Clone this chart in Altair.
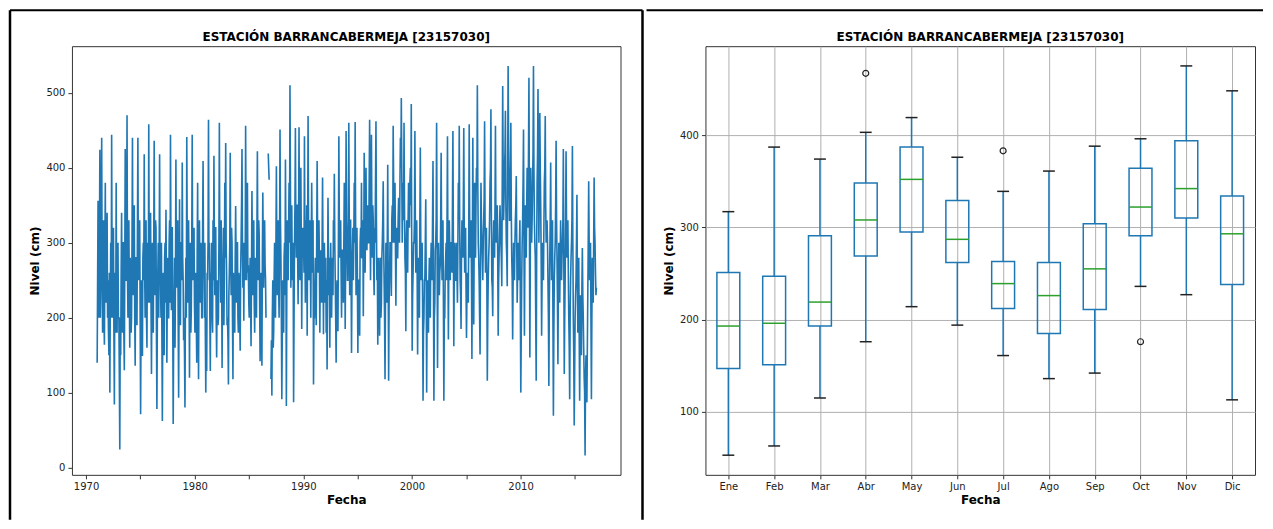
import altair as alt
import pandas as pd

# ---------------- time series (level readings, cm) ----------------
# start-of-month readings, 1971..2016, Jan..Dec
LEVELS_1970S = [  # 1971 .. 1979
    140, 356, 200, 424, 250, 440, 180, 330, 164, 380, 220, 340,
    250, 150, 100, 300, 444, 200, 320, 84, 260, 380, 180, 300,
    200, 24, 150, 340, 180, 300, 130, 425, 250, 470, 200, 330,
    160, 260, 200, 440, 230, 350, 136, 280, 190, 440, 250, 330,
    71, 250, 149, 300, 418, 200, 330, 160, 290, 458, 220, 340,
    125, 300, 180, 436, 230, 320, 78, 260, 200, 418, 250, 300,
    62, 260, 150, 300, 344, 140, 280, 200, 330, 444, 210, 320,
    58, 220, 160, 411, 240, 330, 93, 358, 190, 300, 407, 250,
    200, 80, 280, 441, 220, 330, 120, 300, 210, 444, 250, 320,
]
LEVELS_1980S = [  # 1980 .. 1989
    180, 260, 140, 380, 118, 330, 220, 290, 200, 409, 260, 300,
    100, 129, 250, 464, 300, 129, 250, 200, 330, 416, 230, 320,
    147, 250, 200, 460, 280, 330, 133, 260, 190, 380, 433, 260,
    200, 111, 260, 420, 230, 300, 118, 240, 180, 349, 220, 300,
    180, 250, 156, 300, 425, 240, 196, 300, 456, 250, 380, 270,
    200, 280, 162, 369, 230, 330, 180, 280, 200, 422, 250, 310,
    142, 260, 136, 367, 240, 330, 251, None, None, 419, 384, None,
    118, 96, 250, 180, 300, 200, 402, 230, 330, 200, 451, 280,
    91, 250, 180, 300, 411, 82, 330, 250, 380, 510, 240, 350,
    250, 87, 300, 453, 280, 350, 218, 454, 250, 400, 185, 320,
]
LEVELS_1990S = [  # 1990 .. 1999
    300, 442, 220, 280, 176, 469, 250, 330, 200, 380, 260, 111,
    200, 280, 190, 409, 260, 330, 180, 290, 220, 387, 178, 300,
    220, 180, 131, 360, 230, 160, 300, 200, 280, 330, 392, 250,
    140, 250, 182, 442, 280, 330, 200, 290, 220, 380, 185, 449,
    300, 250, 460, 230, 330, 153, 280, 250, 380, 461, 230, 320,
    153, 250, 176, 320, 380, 280, 202, 420, 260, 400, 290, 350,
    300, 464, 250, 444, 280, 330, 230, 300, 462, 250, 164, 280,
    176, 280, 220, 300, 382, 250, 118, 300, 220, 404, 116, 250,
    300, 229, 350, 456, 300, 380, 216, 320, 280, 360, 300, 440,
    493, 300, 380, 460, 280, 182, 330, 260, 380, 320, 400, 485,
]
LEVELS_2000S = [  # 2000 .. 2009
    156, 260, 300, 449, 260, 330, 151, 280, 200, 427, 250, 300,
    89, 200, 250, 358, 100, 250, 180, 280, 200, 300, 250, 409,
    89, 220, 300, 460, 133, 300, 230, 270, 420, 250, 330, 89,
    200, 280, 250, 442, 171, 330, 250, 300, 260, 449, 162, 300,
    250, 300, 220, 380, 456, 250, 185, 330, 280, 453, 260, 320,
    173, 260, 220, 458, 280, 330, 145, 440, 191, 380, 280, 400,
    510, 300, 250, 151, 380, 300, 250, 330, 462, 260, 320, 116,
    250, 300, 380, 478, 250, 202, 330, 280, 456, 300, 350, 176,
    280, 350, 300, 242, 509, 330, 400, 476, 300, 242, 536, 380,
    330, 460, 280, 171, 300, 250, 330, 389, 220, 300, 250, 330,
]
LEVELS_2010S = [  # 2010 .. 2016
    100, 250, 330, 451, 176, 350, 280, 400, 320, 520, 147, 400,
    300, 380, 536, 330, 280, 116, 380, 505, 300, 473, 350, 176,
    300, 250, 380, 469, 300, 330, 250, 109, 280, 407, 250, 330,
    69, 250, 300, 436, 280, 138, 300, 220, 330, 250, 300, 425,
    125, 250, 422, 280, 330, 200, 91, 250, 300, 429, 200, 56,
    200, 250, 364, 180, 280, 89, 230, 150, 293, 200, 120, 16,
    150, 87, 230, 382, 250, 300, 91, 280, 220, 387, 300, 230,
]
# mid-month readings, 1971..2016, Jan..Dec
MID_1970S = [
    250, 220, 300, 200, 330, 260, 290, 200, 280, 230, 300, 200,
    180, 260, 220, 200, 260, 300, 180, 250, 180, 230, 290, 200,
    120, 200, 260, 220, 300, 180, 270, 250, 300, 260, 300, 240,
    280, 180, 300, 250, 330, 200, 280, 200, 320, 260, 300, 200,
    200, 160, 280, 250, 260, 300, 200, 300, 220, 280, 320, 220,
    250, 200, 300, 260, 330, 180, 200, 300, 280, 250, 200, 180,
    200, 160, 280, 220, 250, 240, 200, 300, 220, 290, 320, 200,
    180, 280, 250, 260, 320, 200, 220, 200, 300, 250, 280, 170,
    150, 220, 200, 300, 320, 250, 250, 180, 300, 260, 300, 220,
]
MID_1980S = [
    250, 200, 290, 220, 260, 250, 300, 200, 320, 280, 200, 180,
    200, 260, 300, 280, 200, 260, 300, 180, 250, 300, 320, 200,
    230, 190, 300, 280, 220, 260, 240, 320, 250, 280, 300, 190,
    170, 230, 300, 280, 320, 200, 260, 190, 280, 270, 300, 200,
    260, 200, 260, 350, 300, 300, 280, 250, 320, 300, 260, 220,
    240, 220, 260, 280, 320, 220, 260, 220, 320, 280, 330, 220,
    220, 190, 280, 290, 310, 270, 200, None, None, 400, None, None,
    170, 200, 160, 250, 230, 300, 280, 320, 240, 300, 330, 200,
    180, 200, 280, 230, 300, 240, 280, 320, 300, 380, 300, 260,
    300, 200, 350, 320, 350, 280, 330, 300, 350, 300, 300, 280,
]
MID_1990S = [
    260, 300, 330, 350, 300, 330, 320, 280, 300, 300, 330, 200,
    250, 230, 300, 320, 300, 280, 280, 240, 300, 280, 290, 260,
    280, 250, 240, 280, 280, 250, 240, 260, 230, 300, 300, 200,
    230, 200, 300, 330, 320, 260, 290, 260, 300, 300, 280, 330,
    250, 330, 320, 330, 260, 250, 320, 300, 300, 330, 300, 250,
    250, 200, 300, 280, 280, 330, 300, 320, 330, 300, 330, 300,
    380, 330, 350, 320, 350, 260, 320, 380, 330, 280, 250, 240,
    250, 200, 280, 330, 300, 200, 220, 250, 300, 260, 220, 300,
    300, 330, 300, 380, 330, 300, 300, 280, 330, 330, 380, 400,
    400, 350, 330, 350, 260, 300, 290, 330, 330, 380, 350, 300,
]
MID_2000S = [
    230, 300, 330, 330, 300, 260, 250, 230, 330, 300, 280, 220,
    180, 250, 300, 250, 220, 230, 250, 220, 270, 280, 330, 250,
    200, 290, 330, 300, 250, 260, 260, 330, 300, 300, 220, 200,
    260, 300, 330, 280, 280, 290, 300, 280, 350, 300, 260, 250,
    280, 260, 300, 330, 320, 230, 290, 300, 350, 320, 300, 240,
    230, 250, 320, 330, 300, 260, 300, 280, 300, 340, 350, 380,
    380, 280, 200, 280, 330, 280, 300, 360, 330, 300, 250, 200,
    280, 330, 400, 330, 240, 300, 300, 350, 330, 330, 280, 250,
    320, 330, 280, 380, 400, 360, 420, 350, 280, 400, 430, 330,
    380, 340, 250, 250, 280, 300, 350, 300, 260, 280, 300, 220,
]
MID_2010S = [
    180, 300, 380, 300, 280, 320, 350, 350, 420, 350, 280, 330,
    330, 420, 400, 300, 200, 280, 420, 380, 380, 400, 280, 250,
    280, 320, 400, 350, 320, 300, 200, 220, 330, 300, 300, 200,
    180, 280, 350, 330, 220, 250, 260, 280, 280, 280, 330, 280,
    200, 330, 330, 300, 260, 160, 200, 280, 330, 300, 150, 130,
    230, 300, 250, 250, 180, 170, 200, 240, 230, 160, 100, 120,
    120, 160, 300, 300, 280, 200, 200, 240, 300, 320, 260, 240,
]
BLOCK_START_YEARS = [1971, 1980, 1990, 2000, 2010]
YEAR_TICKS = [1970, 1975, 1980, 1985, 1990, 1995, 2000, 2005, 2010, 2015]
LEVEL_TICKS = [0, 100, 200, 300, 400, 500]

# ---------------- monthly boxplot statistics ----------------
MONTHS = ["Ene", "Feb", "Mar", "Abr", "May", "Jun",
          "Jul", "Ago", "Sep", "Oct", "Nov", "Dic"]
WHISKER_LOW = [53, 63, 115, 176, 214, 194, 161, 136, 142, 236, 227, 113]
Q1 = [147, 151, 193, 269, 295, 262, 212, 185, 211, 291, 310, 238]
MEDIAN = [193, 196, 219, 308, 352, 287, 239, 226, 255, 322, 342, 293]
Q3 = [251, 247, 291, 348, 387, 329, 263, 262, 304, 364, 394, 334]
WHISKER_HIGH = [317, 387, 374, 403, 419, 376, 339, 361, 388, 396, 475, 448]
OUTLIER_MONTH = [4, 7, 10]
OUTLIER_VALUE = [467, 383, 176]
BOX_TICKS = [100, 200, 300, 400]

TITLE = "ESTACIÓN BARRANCABERMEJA [23157030]"
BLUE = "#1f77b4"
GREEN = "#2ca02c"
FONT = "DejaVu Sans"
PW, PH = 549, 429      # left plot area
PW2 = 550              # right plot area

# ---- build tables ----
rows = []
seg = 0
prev_none = False
for start, main_vals, mid_vals in zip(
        BLOCK_START_YEARS,
        [LEVELS_1970S, LEVELS_1980S, LEVELS_1990S, LEVELS_2000S, LEVELS_2010S],
        [MID_1970S, MID_1980S, MID_1990S, MID_2000S, MID_2010S]):
    for i in range(len(main_vals)):
        year = start + i // 12
        m = i % 12
        for frac, v in ((0.25, main_vals[i]), (0.75, mid_vals[i])):
            if v is None:
                prev_none = True
                continue
            if prev_none:
                seg += 1
            prev_none = False
            rows.append({"t": year + (m + frac) / 12.0, "v": v, "seg": seg})
ts = pd.DataFrame(rows)

box = pd.DataFrame({
    "pos": list(range(1, 13)), "month": MONTHS,
    "wlo": WHISKER_LOW, "q1": Q1, "med": MEDIAN, "q3": Q3, "whi": WHISKER_HIGH,
})
outl = pd.DataFrame({"pos": OUTLIER_MONTH, "v": OUTLIER_VALUE})
deco = alt.Chart(pd.DataFrame({"k": [0]}))


def title_mark(width):
    return deco.mark_text(text=TITLE, font=FONT, fontSize=12, fontWeight="bold",
                          align="center", baseline="alphabetic", color="black").encode(
        x=alt.value(width / 2), y=alt.value(-5))


# ---------------- left: time series ----------------
xs_left = alt.X("t:Q",
                scale=alt.Scale(domain=[1968.7, 2019.2], nice=False, zero=False),
                axis=alt.Axis(values=YEAR_TICKS, format="d", title="Fecha",
                              labelExpr="datum.value % 10 == 0 ? datum.label : ''"))
ys_left = alt.Y("v:Q", scale=alt.Scale(domain=[-9.7, 562.3], nice=False, zero=False),
                axis=alt.Axis(values=LEVEL_TICKS, title="Nivel (cm)"))

line = alt.Chart(ts).mark_line(color=BLUE, strokeWidth=1.6).encode(
    x=xs_left, y=ys_left, detail="seg:N", order="t:Q")

left_border = deco.mark_rule(color="black", strokeWidth=2.5).encode(
    x=alt.value(-62), y=alt.value(-36), y2=alt.value(474))
mid_border = deco.mark_rule(color="black", strokeWidth=2.5).encode(
    x=alt.value(571), y=alt.value(-36), y2=alt.value(474))
top_border_l = deco.mark_rule(color="black", strokeWidth=2).encode(
    x=alt.value(-62), x2=alt.value(571), y=alt.value(-36))

left = alt.layer(line, title_mark(PW), left_border, mid_border, top_border_l).properties(
    width=PW, height=PH)

# ---------------- right: boxplot ----------------
x_scale_r = alt.Scale(domain=[0.5, 12.5], nice=False, zero=False)
x_axis_r = alt.Axis(values=list(range(1, 13)), title="Fecha", grid=True,
                    labelExpr="['" + "','".join(MONTHS) + "'][datum.value - 1]")
y_scale_r = alt.Scale(domain=[31.7, 496.4], nice=False, zero=False)
y_axis_r = alt.Axis(values=BOX_TICKS, title="Nivel (cm)", grid=True)

base = alt.Chart(box).transform_calculate(
    lo="datum.pos - 0.25", hi="datum.pos + 0.25",
    clo="datum.pos - 0.13", chi="datum.pos + 0.13")

rect = base.mark_rect(fillOpacity=0, stroke=BLUE, strokeWidth=1.5).encode(
    x=alt.X("lo:Q", scale=x_scale_r, axis=x_axis_r),
    x2="hi:Q",
    y=alt.Y("q1:Q", scale=y_scale_r, axis=y_axis_r),
    y2="q3:Q")
wh_lo = base.mark_rule(color=BLUE, strokeWidth=1.5).encode(
    x="pos:Q", y="wlo:Q", y2="q1:Q")
wh_hi = base.mark_rule(color=BLUE, strokeWidth=1.5).encode(
    x="pos:Q", y="q3:Q", y2="whi:Q")
cap_lo = base.mark_rule(color="#222", strokeWidth=1.5).encode(
    x="clo:Q", x2="chi:Q", y="wlo:Q")
cap_hi = base.mark_rule(color="#222", strokeWidth=1.5).encode(
    x="clo:Q", x2="chi:Q", y="whi:Q")
med = base.mark_rule(color=GREEN, strokeWidth=1.5).encode(
    x="lo:Q", x2="hi:Q", y="med:Q")
fliers = alt.Chart(outl).mark_point(shape="circle", filled=False, color="#222",
                                     size=36, strokeWidth=1.2, opacity=1).encode(
    x="pos:Q", y="v:Q")

top_border_r = deco.mark_rule(color="black", strokeWidth=2).encode(
    x=alt.value(-59), x2=alt.value(558), y=alt.value(-36))

right = alt.layer(rect, wh_lo, wh_hi, cap_lo, cap_hi, med, fliers,
                  title_mark(PW2), top_border_r).properties(width=PW2, height=PH)

chart = alt.hconcat(left, right, spacing=0).properties(padding=0).configure(
    font=FONT
).configure_view(
    stroke="#333", strokeWidth=1
).configure_axis(
    domain=False, labelFont=FONT, labelFontSize=10, labelColor="#222",
    tickColor="#333", tickSize=4, labelPadding=3, gridColor="#b0b0b0",
    gridWidth=1, grid=False, titleFont=FONT, titleFontSize=12,
    titleFontWeight="bold", titleColor="black", titlePadding=4
).configure_axisX(labelFlush=False, titlePadding=3)

chart.save("out.html", embed_options={"renderer": "svg", "actions": False})
